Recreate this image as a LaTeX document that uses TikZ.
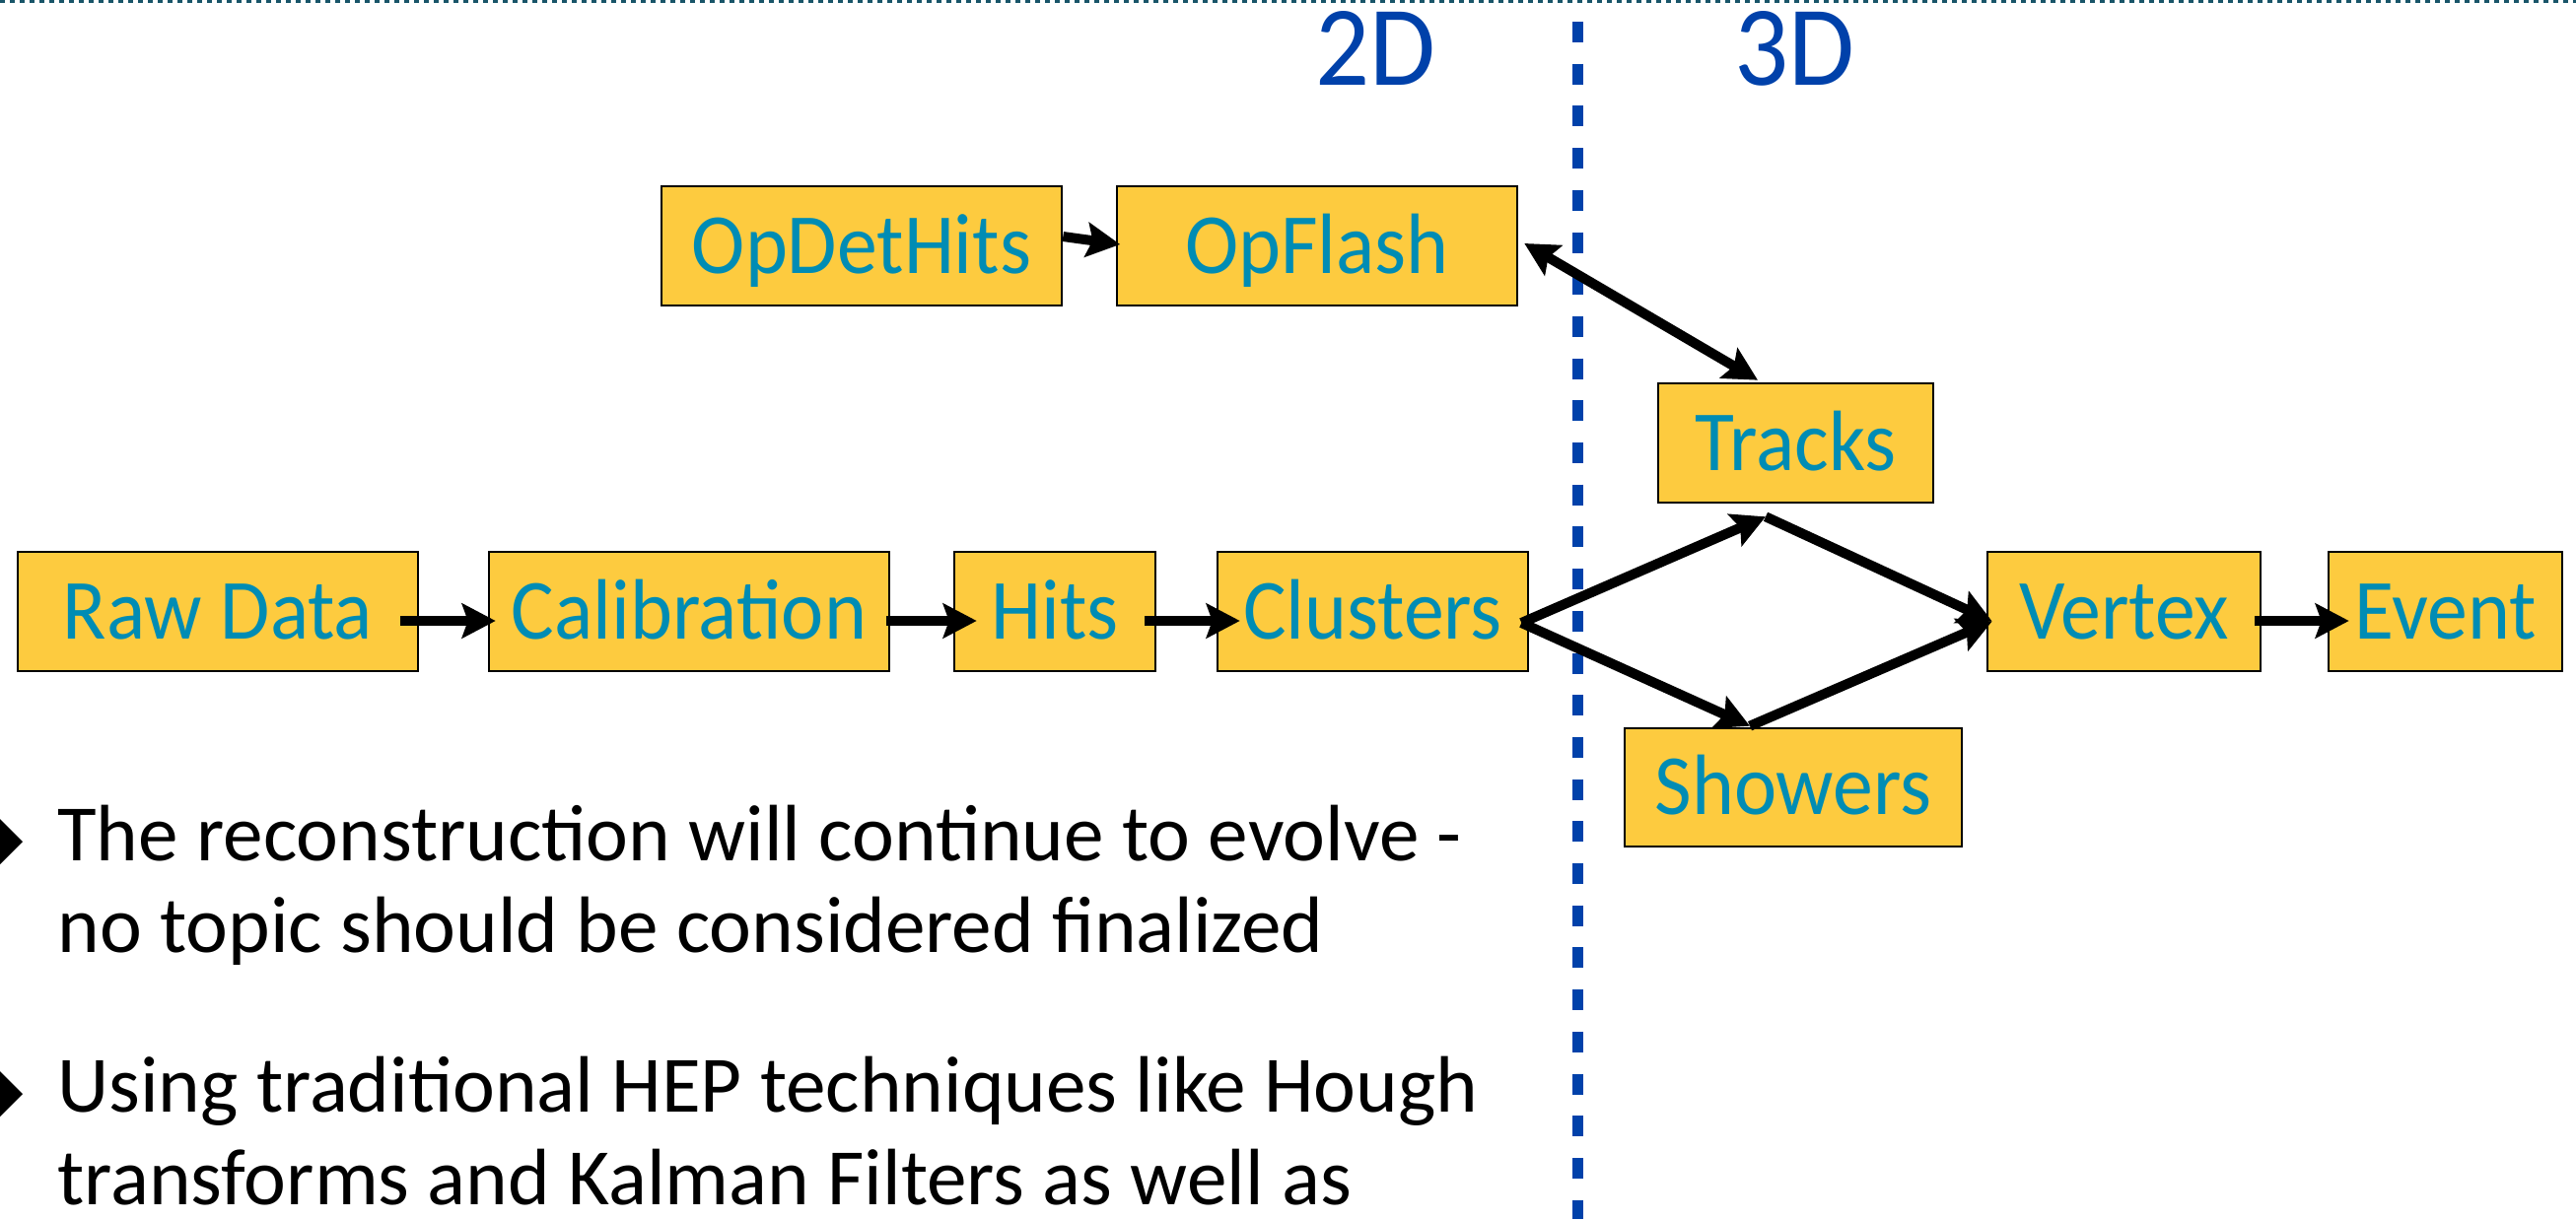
\documentclass[tikz,border=0pt]{standalone}
\usepackage{fontspec}
\setmainfont{Carlito}[FakeStretch=0.94]
\newfontfamily\itemfont{Carlito}
\usetikzlibrary{arrows.meta}
\definecolor{boxfill}{RGB}{253,203,63}
\definecolor{boxtext}{RGB}{0,140,180}
\definecolor{dimblue}{RGB}{0,65,170}
\definecolor{ruleteal}{RGB}{25,85,105}
\begin{document}
\begin{tikzpicture}[x=0.5pt, y=-0.5pt,
  stage/.style={draw=black, line width=1.3pt, fill=boxfill, text=boxtext, inner sep=0pt,
    minimum height=60.5pt, text height=27.5pt, text depth=0pt, font=\fontsize{43.5}{50}\selectfont},
  flow/.style={line width=5pt, -{Stealth[length=17pt, width=17.5pt, inset=3pt]}},
  twoway/.style={line width=5pt, {Stealth[length=17pt, width=17.5pt, inset=3pt]}-{Stealth[length=17pt, width=17.5pt, inset=3pt]}},
  dimlabel/.style={text=dimblue, inner sep=0pt, anchor=base, font=\fontsize{57.8}{60}\selectfont},
  itemline/.style={inner sep=0pt, anchor=base west, text depth=0pt, font=\itemfont\fontsize{40.6}{46}\selectfont}]
\useasboundingbox (0,0) rectangle (2613,1237);
\draw[ruleteal, line width=1.5pt, dash pattern=on 2.5pt off 2.5pt] (0,1.5) -- (2613,1.5);
\draw[dimblue, line width=5.5pt, dash pattern=on 10.5pt off 10.85pt] (1600,22) -- (1600,1237);
\node[dimlabel] (twod) at (1395.5,86) {2D};
\node[dimlabel] (threed) at (1820.5,86) {3D};
\node[stage, minimum width=203pt] (rawdata) at (221,620.5) {Raw Data};
\node[stage, minimum width=203pt] (calib) at (699,620.5) {Calibration};
\node[stage, minimum width=102pt] (hits) at (1070,620.5) {Hits};
\node[stage, minimum width=157.5pt] (clusters) at (1392.5,620.5) {Clusters};
\node[stage, minimum width=203pt] (opdet) at (874,249.5) {OpDetHits};
\node[stage, minimum width=203pt] (opflash) at (1336,249.5) {OpFlash};
\node[stage, minimum width=139.5pt] (tracks) at (1821.5,449.5) {Tracks};
\node[stage, minimum width=171pt, minimum height=60pt] (showers) at (1819,799) {Showers};
\node[stage, minimum width=138.5pt] (vertex) at (2154.5,620.5) {Vertex};
\node[stage, minimum width=118.5pt] (event) at (2480.5,620.5) {Event};
\draw[flow] ([xshift=-9.5pt, yshift=-4.75pt]rawdata.east) -- ([xshift=4pt, yshift=-4.75pt]calib.west);
\draw[flow] ([xshift=-2.25pt, yshift=-4.75pt]calib.east) -- ([xshift=12pt, yshift=-4.75pt]hits.west);
\draw[flow] ([xshift=-6pt, yshift=-4.75pt]hits.east) -- ([xshift=12pt, yshift=-4.75pt]clusters.west);
\draw[flow] ([xshift=-3.5pt, yshift=-4.75pt]vertex.east) -- ([xshift=11pt, yshift=-4.75pt]event.west);
\draw[flow] ([yshift=4.75pt]opdet.east) -- ([xshift=2.25pt, yshift=0.75pt]opflash.west);
\draw[twoway] ([xshift=3pt, yshift=1.25pt]opflash.east) -- ([xshift=-19.25pt, yshift=1pt]tracks.north);
\draw[flow] ([xshift=-4pt, yshift=-5.75pt]clusters.east) -- ([xshift=-15.25pt, yshift=-6.5pt]tracks.south);
\draw[flow] ([xshift=-4pt, yshift=-5.75pt]clusters.east) -- ([xshift=-22pt, yshift=0.5pt]showers.north);
\draw[flow] ([xshift=-15.25pt, yshift=-6.5pt]tracks.south) -- ([xshift=3pt, yshift=-5pt]vertex.west);
\draw[flow] ([xshift=-22pt, yshift=0.5pt]showers.north) -- ([xshift=3pt, yshift=-5pt]vertex.west);
\fill (-23,854) -- (0,831) -- (23,854) -- (0,877) -- cycle;
\fill (-23,1110) -- (0,1087) -- (23,1110) -- (0,1133) -- cycle;
\node[itemline] (line1) at (58,873) {The reconstruction will continue to evolve -};
\node[itemline] (line2) at (58,966) {no topic should be considered finalized};
\node[itemline] (line3) at (58,1128) {Using traditional HEP techniques like Hough};
\node[itemline] (line4) at (58,1222) {transforms and Kalman Filters as well as};
\end{tikzpicture}
\end{document}
